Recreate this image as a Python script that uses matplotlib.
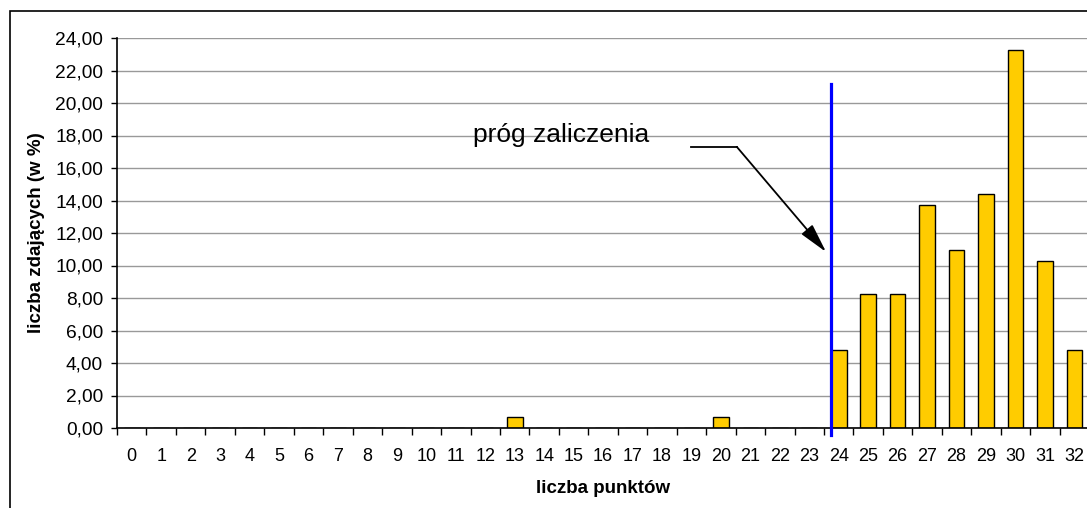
"""rozkład wyników - liczba punktów"""
import matplotlib
matplotlib.use("Agg")
import matplotlib.pyplot as plt
from matplotlib.patches import Rectangle

punkty = list(range(0, 33))
procent = [0, 0, 0, 0, 0, 0, 0, 0, 0, 0, 0, 0, 0, 0.68, 0, 0, 0, 0, 0, 0,
           0.68, 0, 0, 0, 4.79, 8.22, 8.22, 13.70, 10.96, 14.38, 23.29, 10.27, 4.79]
y_ticks = [0, 2, 4, 6, 8, 10, 12, 14, 16, 18, 20, 22, 24]
prog = 23.75

plt.rcParams['font.family'] = ['Liberation Sans', 'DejaVu Sans']

fig = plt.figure(figsize=(10.87, 5.08), dpi=100)
fig.patches.append(Rectangle((10 / 1087, -0.1), 1.2, 1 - 11 / 508 + 0.1,
                             transform=fig.transFigure, fill=False,
                             edgecolor='black', linewidth=1.2))
ax = fig.add_axes([117 / 1087, 1 - 428 / 508, 1 - 117 / 1087 + 0.002, 390 / 508])

ax.bar(punkty, procent, width=0.53, color='#FFCC00', edgecolor='black',
       linewidth=1, zorder=3)

ax.set_xlim(-0.5, 32.5)
ax.set_ylim(0, 24)
ax.set_yticks(y_ticks)
ax.set_yticklabels([f"{v:.2f}".replace('.', ',') for v in y_ticks])
ax.set_xticks(punkty)
ax.set_xticks([p - 0.5 for p in punkty] + [32.5], minor=True)
ax.tick_params(axis='x', which='major', length=0, pad=14.5, labelsize=13)
ax.tick_params(axis='x', which='minor', length=5, direction='out', width=1)
ax.tick_params(axis='y', length=4.5, direction='out', width=1, pad=5.5, labelsize=13.8)

ax.grid(axis='y', color='#999999', linewidth=1, zorder=0)
for s in ['top', 'right']:
    ax.spines[s].set_visible(False)
ax.spines['left'].set_linewidth(1.2)
ax.spines['bottom'].set_linewidth(1.2)
ax.spines['left'].set_zorder(4)
ax.spines['bottom'].set_zorder(4)

ax.set_xlabel("liczba punktów", fontsize=13.5, fontweight='bold', labelpad=11)
ax.set_ylabel("liczba zdających (w %)", fontsize=13.5, fontweight='bold', labelpad=7)

ax.plot([prog, prog], [-0.45, 21.2], color='#0000FF', linewidth=2.3,
        zorder=5, clip_on=False)

ax.text(11.6, 17.6, "próg zaliczenia", fontsize=19, ha='left', va='baseline')
ax.plot([19.0, 20.54], [17.3, 17.3], color='black', linewidth=1.3, zorder=6)
ax.annotate("", xy=(23.57, 10.83), xytext=(20.54, 17.3),
            arrowprops=dict(arrowstyle='-|>,head_length=0.9,head_width=0.22',
                            color='black', lw=1.3, mutation_scale=20,
                            shrinkA=0, shrinkB=0), zorder=6)

fig.savefig("out.png", dpi=100)
